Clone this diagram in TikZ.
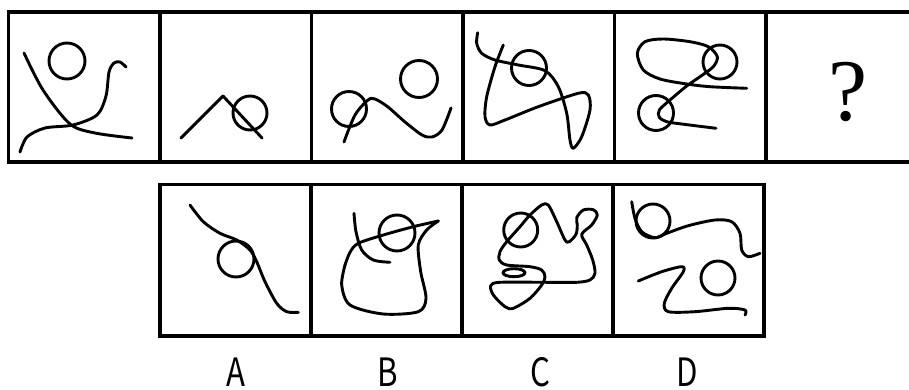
\documentclass[tikz,border=0pt]{standalone}
\usepackage{fontspec}
\newfontfamily\labfont{Noto Sans CJK SC}
\newfontfamily\qfont{Liberation Serif}
\begin{document}
\begin{tikzpicture}[x=1pt,y=-1pt,
  frame/.style={line width=3.4pt},
  stroke/.style={line width=2.9pt, line cap=round, line join=round},
  lab/.style={font=\labfont\fontsize{39}{39}\selectfont, inner sep=0pt, xscale=0.8}]
\useasboundingbox (0,0) rectangle (909,390);
% ---- top row frames
\draw[frame] (909,12) -- (8.5,12) -- (8.5,162) -- (909,162);
\foreach \x in {160,311.5,463,614.5,766} \draw[frame] (\x,12) -- (\x,162);
% ---- bottom row frames
\draw[frame] (160,184.5) rectangle (764,336);
\foreach \x in {311,462,613} \draw[frame] (\x,184.5) -- (\x,336);

% ---- panel 1
\draw[stroke] (67,61) circle (18);
\draw[stroke] plot[smooth] coordinates {(24,53) (43,90) (70,124) (95,133) (132,138)};
\draw[stroke] plot[smooth] coordinates {(20,152) (27,137) (45,128) (73,125) (97,115) (106,96) (109,72) (114,63) (120,62) (126,67)};

% ---- panel 2
\draw[stroke] (181,138) -- (223,96) -- (262,138);
\draw[stroke] (250,113) circle (17);

% ---- panel 3
\draw[stroke] (419,79) circle (18.5);
\draw[stroke] (349,109) circle (17.5);
\draw[stroke] plot[smooth] coordinates {(344,142) (355,115) (368,100) (375,99) (388,107) (405,122) (422,135) (432,137) (442,130) (451,108)};

% ---- panel 4
\draw[stroke] (529,68) circle (17.5);
\draw[stroke] plot[smooth] coordinates {(477.7,32.7) (476.7,43.3) (481.7,53.3) (495,60) (518.3,65) (545,70.7) (558.3,86.7) (566.7,113.3) (570,140) (573.3,148.3) (581.7,136.7) (590,110) (588.3,95) (578.3,93.3) (538.3,106.7) (505,120) (490,125) (485,116.7) (486.7,96.7) (495,66.7) (503.3,45)};

% ---- panel 5
\draw[stroke] (720,62) circle (17);
\draw[stroke] (656,113) circle (17.5);
\draw[stroke] plot[smooth] coordinates {(746.7,88.3) (710,86.7) (686.7,84) (660,79) (643.3,70) (637.3,53.3) (645,41.7) (663.3,39) (690,41.7) (708.3,46.7) (717.3,56.7) (713.3,66.7) (700,76.7) (686.7,86) (670,100) (659.3,110) (659.3,117.3) (666.7,121.7) (681.7,124) (716,128.3)};

% ---- panel 6
\node[font=\qfont\fontsize{88}{88}\selectfont, inner sep=0pt] (q) at (848,92) {?};

% ---- option A
\draw[stroke] (236,259) circle (18);
\draw[stroke] plot[smooth] coordinates {(190,205) (203.3,221.7) (220,233.3) (236.7,240) (250,250) (256.7,261.7) (265,281.7) (276.7,303.3) (286.7,311.7) (298.3,312.3)};

% ---- option B
\draw[stroke] (397,233) circle (18);
\draw[stroke] plot[smooth] coordinates {(354,213.3) (356,231.7) (361.7,250) (373.3,260) (390,262.3)};
\draw[stroke] plot[smooth] coordinates {(345,265) (350,252.3) (358.3,243.3) (383.3,235) (413.3,226.7) (438.3,221)};
\draw[stroke] plot[smooth] coordinates {(438.3,221) (426.7,230) (418.3,245) (420.7,271.7) (426,298.3) (418.3,311.7) (383.3,314) (350,305) (341.7,285) (345,265)};

% ---- option C
\draw[stroke] (520.7,230) circle (17);
\draw[stroke] (514,272.7) ellipse (11 and 4);
\draw[stroke] plot[smooth cycle] coordinates {(506.7,241.7) (520,226.7) (530,215) (541.7,205) (548.3,205) (556.7,221.7) (565,240) (569.3,241.7) (576,234.3) (577.3,225) (576.7,217.7) (583.3,210) (593.3,209.7) (597.3,215) (591.7,225) (581.7,234.3) (586.7,245) (592.7,260) (595,273.3) (590,280) (576.7,282.3) (546.7,282.3) (500,282.3) (490.7,285.7) (493.3,295) (505,306.7) (513.3,308.3) (530,298.3) (541.7,285) (545,276.7) (541.7,270) (530,266.7) (506.7,265) (499.3,260) (500,251.7)};

% ---- option D
\draw[stroke] (653,221) circle (17);
\draw[stroke] (718,278) circle (17);
\draw[stroke] plot[smooth] coordinates {(631.7,201.7) (635,218.3) (641.7,231.7) (655,237.7) (666.7,233.3) (688.3,225.7) (715,220) (731.7,221.7) (740,233.3) (741.7,250) (748.3,256.7) (760,253.3)};
\draw[stroke] plot[smooth] coordinates {(638.3,281) (661.7,271.7) (681.7,266.7) (683.3,271.7) (671.7,288.3) (664.3,303.3) (668.3,311.7) (695,311.7) (728.3,308.3) (745,310) (745,315)};

% ---- labels
\node[lab] (la) at (236,372) {A};
\node[lab] (lb) at (388,372) {B};
\node[lab] (lc) at (540,372) {C};
\node[lab] (ld) at (687,372) {D};
\end{tikzpicture}
\end{document}
